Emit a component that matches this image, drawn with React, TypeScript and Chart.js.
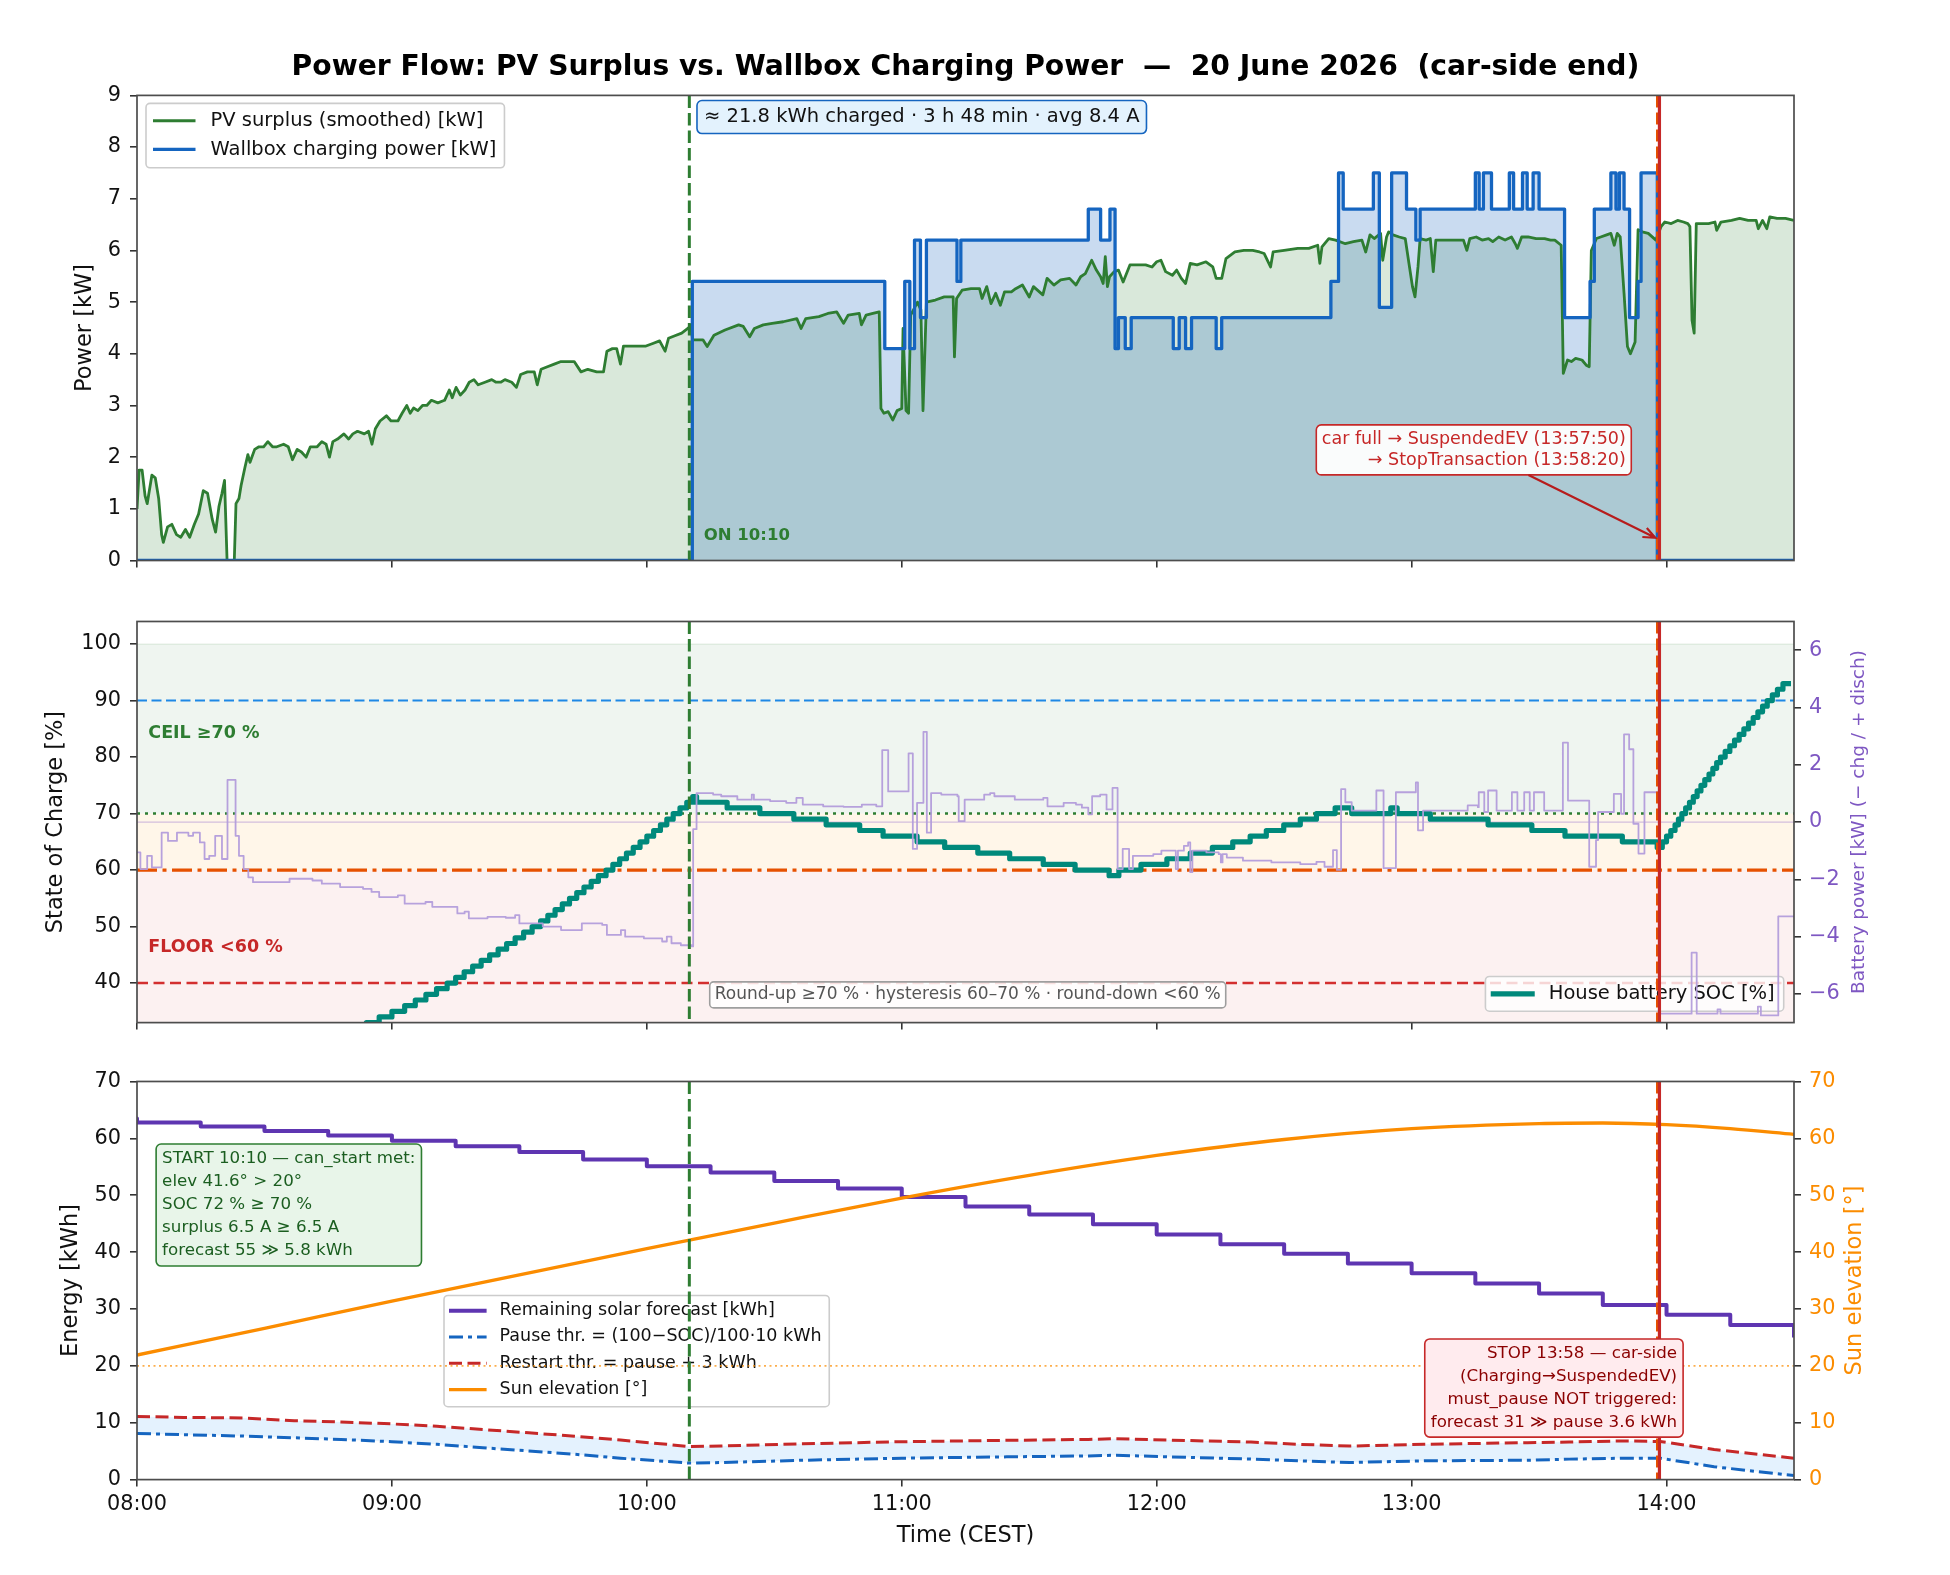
import React, { useEffect, useRef } from 'react';
import { Chart, registerables } from 'chart.js';

Chart.register(...registerables);

const FONT = '"DejaVu Sans", "Liberation Sans", sans-serif';
const TICK_PX = 20.8;
const LABEL_PX = 22.5;

// ---------------- axes / ticks ----------------
const timeTicks = [0, 60, 120, 180, 240, 300, 360];
const timeTickLabels = ['08:00', '09:00', '10:00', '11:00', '12:00', '13:00', '14:00'];
const powerTicks = [0, 1, 2, 3, 4, 5, 6, 7, 8, 9];
const socTicks = [40, 50, 60, 70, 80, 90, 100];
const batteryTicks = [-6, -4, -2, 0, 2, 4, 6];
const batteryTickLabels = ['−6', '−4', '−2', '0', '2', '4', '6'];
const energyTicks = [0, 10, 20, 30, 40, 50, 60, 70];
const sunTicks = [0, 10, 20, 30, 40, 50, 60, 70];

// event times (minutes after 08:00)
const chargeStartMin = 130;
const suspendedMin = 357.83;
const stopMin = 358.33;

// ---------------- series: [minute after 08:00, value] ----------------
const pvSurplusKw = [
  [0, 1.0], [0.5, 1.75], [1.2, 1.75], [1.9, 1.25], [2.4, 1.1], [3.5, 1.65], [4.3, 1.6], [5.1, 1.2], [5.8, 0.5], [6.2, 0.35],
  [7.2, 0.65], [8.2, 0.7], [9.3, 0.5], [10.3, 0.45], [11.4, 0.6], [12.4, 0.45], [13.5, 0.7], [14.5, 0.9], [15.6, 1.35], [16.6, 1.3],
  [17.7, 0.8], [18.5, 0.55], [19.3, 1.05], [20, 1.3], [20.6, 1.55], [21.2, 0], [22.9, 0], [23.3, 1.1], [24, 1.2], [24.5, 1.45],
  [25.4, 1.8], [26.1, 2.05], [26.6, 1.9], [27.7, 2.15], [28.7, 2.2], [29.8, 2.2], [30.8, 2.3], [31.9, 2.2], [32.9, 2.2], [34.5, 2.25],
  [35.6, 2.2], [36.6, 1.95], [37.7, 2.15], [38.7, 2.1], [39.8, 2.0], [40.8, 2.2], [42.4, 2.2], [43.5, 2.3], [44.5, 2.25], [45.3, 2.0],
  [46.1, 2.3], [47.2, 2.35], [48.7, 2.45], [49.8, 2.35], [50.8, 2.45], [51.9, 2.5], [53.5, 2.45], [54.5, 2.5], [55.3, 2.25], [56.1, 2.55],
  [57.2, 2.7], [58.7, 2.8], [59.8, 2.7], [61.4, 2.7], [62.4, 2.85], [63.5, 3.0], [64.3, 2.85], [65.1, 2.95], [66.1, 2.9], [67.2, 3.0],
  [68.2, 3.0], [69.3, 3.1], [70.8, 3.05], [72.4, 3.1], [73.5, 3.3], [74.2, 3.15], [75.1, 3.35], [76.1, 3.2], [77.2, 3.3], [78.2, 3.45],
  [79.3, 3.5], [80.3, 3.4], [81.9, 3.45], [83.5, 3.5], [84.5, 3.45], [85.6, 3.45], [86.6, 3.5], [88.2, 3.45], [89.3, 3.35], [90.3, 3.6],
  [91.9, 3.65], [93.5, 3.65], [94.2, 3.4], [95.1, 3.7], [96.6, 3.75], [98.2, 3.8], [99.8, 3.85], [101.4, 3.85], [102.9, 3.85], [104.5, 3.65],
  [106.1, 3.7], [108.2, 3.65], [109.8, 3.65], [110.6, 4.05], [111.9, 4.1], [112.9, 4.1], [113.8, 3.8], [114.5, 4.15], [116.1, 4.15], [118.2, 4.15],
  [119.8, 4.15], [121.4, 4.2], [123, 4.25], [124.3, 4.05], [125.1, 4.3], [126.6, 4.35], [128.2, 4.4], [129.8, 4.5], [130.3, 4.55],
  [130.8, 4.27], [133.2, 4.27], [134.2, 4.14], [135.8, 4.36], [138.4, 4.46], [141.6, 4.56], [142.7, 4.53], [144.2, 4.33], [145.3, 4.49], [147.4, 4.56],
  [149.5, 4.59], [152.1, 4.62], [155.3, 4.68], [156.3, 4.49], [157.4, 4.68], [160.5, 4.72], [162.6, 4.78], [164.7, 4.81], [166.3, 4.59], [167.4, 4.75],
  [170, 4.78], [170.5, 4.56], [171.6, 4.75], [173.2, 4.78], [174.7, 4.81], [175.1, 2.94], [175.8, 2.85], [176.8, 2.88], [177.9, 2.72], [178.9, 2.9],
  [180, 2.94], [180.3, 4.49], [181, 2.9], [181.6, 2.85], [182.1, 4.75], [183.7, 5.0], [184.5, 4.85], [185, 2.9], [185.8, 5.0], [187.9, 5.04],
  [190, 5.1], [192.1, 5.1], [192.4, 3.94], [192.9, 5.07], [194.2, 5.23], [196.3, 5.26], [198.3, 5.26], [198.9, 5.07], [200, 5.3], [201, 4.97],
  [202.1, 5.17], [203.2, 4.94], [204.2, 5.2], [205.8, 5.2], [206.8, 5.26], [208.4, 5.33], [210, 5.1], [211, 5.3], [213.2, 5.14], [214.2, 5.46],
  [215.8, 5.33], [217.4, 5.43], [219.5, 5.46], [221, 5.33], [222.1, 5.49], [223.2, 5.55], [224.7, 5.81], [225.8, 5.62], [226.8, 5.49], [227.4, 5.36],
  [227.9, 5.88], [228.4, 5.3], [228.9, 5.49], [230, 5.59], [231, 5.62], [232.1, 5.39], [233.7, 5.72], [235.3, 5.72], [237.4, 5.72], [238.9, 5.68],
  [240, 5.78], [241, 5.81], [242.1, 5.59], [243.7, 5.52], [244.7, 5.62], [245.8, 5.46], [246.8, 5.36], [247.9, 5.75], [249.5, 5.72], [251.6, 5.78],
  [253.2, 5.68], [254, 5.46], [255.3, 5.46], [256.3, 5.84], [258.4, 5.97], [260.5, 6.0], [262.6, 6.0], [264.2, 5.97], [265.3, 5.94], [266.8, 5.68],
  [267.4, 5.97], [270, 6.0], [273.2, 6.04], [275.8, 6.04], [277.9, 6.1], [278.4, 5.75], [278.9, 6.07], [280.5, 6.23], [282.1, 6.2], [284.4, 6.13],
  [286.3, 6.17], [288.3, 6.2], [289.2, 5.97], [290.2, 6.3], [291.2, 6.23], [292.7, 6.33], [293.2, 5.81], [294.1, 6.26], [294.6, 6.36], [295.6, 6.3],
  [297.1, 6.26], [298.5, 6.23], [299.5, 5.68], [300.2, 5.3], [300.8, 5.1], [301.5, 5.68], [302, 6.23], [303.4, 6.2], [304.4, 6.23], [305.1, 5.59],
  [305.7, 6.2], [307.8, 6.2], [310.8, 6.2], [312.2, 6.2], [313, 6.0], [313.7, 6.23], [315.2, 6.26], [316.6, 6.2], [318.1, 6.23], [319.1, 6.17],
  [320.5, 6.26], [322, 6.2], [323.5, 6.26], [324.4, 6.13], [324.9, 6.04], [325.9, 6.26], [327.4, 6.26], [329.3, 6.23], [331.3, 6.23], [332.7, 6.2],
  [333.7, 6.2], [335.2, 6.1], [335.7, 3.62], [336.7, 3.88], [337.6, 3.85], [338.6, 3.91], [340.1, 3.88], [341.1, 3.78], [341.8, 3.75], [342.3, 6.0],
  [343.5, 6.23], [344.5, 6.26], [345.9, 6.3], [346.9, 6.33], [347.7, 6.1], [348.4, 6.33], [349.1, 6.26], [350, 5.17], [350.8, 4.14], [351.5, 4.0],
  [352.6, 4.23], [353.3, 6.4], [354.3, 6.36], [355.7, 6.33], [357.5, 6.2], [358.7, 6.46], [359.6, 6.55], [361.1, 6.52], [362.6, 6.58], [364, 6.55],
  [365, 6.52], [365.5, 6.46], [366, 4.65], [366.5, 4.4], [367, 6.52], [368.4, 6.52], [369.9, 6.52], [371.4, 6.55], [371.8, 6.39], [372.8, 6.55],
  [375.3, 6.58], [377.2, 6.62], [379.2, 6.58], [381.1, 6.58], [381.6, 6.42], [382.6, 6.58], [383.6, 6.42], [384.3, 6.65], [386, 6.62], [388, 6.62],
  [390, 6.58],
];

const wallboxKw = [
  [0, 0], [130.7, 5.4], [176, 4.1], [180.7, 5.4], [181.9, 4.1], [183, 6.2], [184.4, 4.7], [185.8, 6.2], [193, 5.4], [193.9, 6.2],
  [223.9, 6.8], [226.8, 6.2], [229, 6.8], [230.2, 4.1], [231, 4.7], [232.6, 4.1], [234, 4.7], [243.9, 4.1], [245.3, 4.7], [246.8, 4.1],
  [248.2, 4.7], [254, 4.1], [255.3, 4.7], [281, 5.4], [282.8, 7.5], [283.9, 6.8], [291, 7.5], [292.4, 4.9], [295.3, 7.5], [298.8, 6.8],
  [301, 6.2], [302, 6.8], [315, 7.5], [315.9, 6.8], [316.9, 7.5], [318.8, 6.8], [323, 7.5], [324, 6.8], [326.1, 7.5], [327.2, 6.8],
  [328.6, 7.5], [330, 6.8], [336, 4.7], [342, 5.4], [343, 6.8], [346.9, 7.5], [348.1, 6.8], [348.9, 7.5], [350, 6.8], [351.3, 4.7],
  [353.3, 5.4], [354, 7.5], [357.83, 0], [390, 0],
];

const houseSocPct = [
  [48, 31], [51, 32], [54, 33], [57, 34], [60, 35], [63, 36], [65.5, 37], [68, 38], [70.5, 39], [73, 40],
  [75, 41], [77, 42], [79, 43], [81, 44], [83, 45], [85, 46], [87, 47], [89, 48], [91, 49], [93, 50],
  [95, 51], [96.7, 52], [98.4, 53], [100.1, 54], [101.8, 55], [103.5, 56], [105.2, 57], [106.9, 58], [108.6, 59], [110.4, 60],
  [112, 61], [113.6, 62], [115.2, 63], [116.8, 64], [118.4, 65], [120, 66], [121.6, 67], [123.2, 68], [124.7, 69], [126.2, 70],
  [127.8, 71], [129.4, 72], [130.8, 73], [131.7, 72], [138.9, 71], [146.6, 70], [154.6, 69], [162.2, 68], [170.1, 67], [175.6, 66],
  [183.6, 65], [190.1, 64], [197.9, 63], [205.4, 62], [213.3, 61], [220.8, 60], [228.8, 59], [231.1, 60], [236.3, 61], [242.4, 62],
  [247.9, 63], [253.1, 64], [257.9, 65], [262, 66], [265.8, 67], [269.9, 68], [273.8, 69], [277.6, 70], [282, 71], [285.9, 70],
  [295.1, 71], [296.6, 70], [304.4, 69], [318, 68], [328.3, 67], [336.1, 66], [349.6, 65], [357.8, 64], [359, 65], [360, 66],
  [361, 67], [362, 68], [362.8, 69], [363.6, 70], [364.5, 71], [365.4, 72], [366.3, 73], [367.2, 74], [368.1, 75], [369, 76],
  [370, 77], [370.9, 78], [371.8, 79], [372.7, 80], [373.8, 81], [374.9, 82], [376, 83], [377.1, 84], [378.2, 85], [379.3, 86],
  [380.4, 87], [381.5, 88], [382.6, 89], [383.7, 90], [384.9, 91], [386.1, 92], [387.4, 93], [389.3, 93],
];

const batteryKw = [
  [0, -1.06], [0.8, -1.64], [2.4, -1.18], [3.5, -1.58], [5.8, -0.37], [7.3, -0.66], [9.4, -0.37], [12.1, -0.48], [13.2, -0.37], [14.8, -0.71],
  [15.9, -1.29], [17, -1.18], [18.4, -0.48], [20, -1.29], [21.3, 1.47], [23.2, -0.48], [24, -1.18], [25.1, -1.64], [26.2, -1.93], [27.3, -2.1],
  [35.9, -1.98], [41.3, -2.04], [43.5, -2.15], [47.8, -2.27], [53.2, -2.33], [55.2, -2.44], [57, -2.62], [61.4, -2.56], [63, -2.85], [67.9, -2.79],
  [69.5, -2.96], [75.4, -3.19], [77.1, -3.13], [78.1, -3.36], [82.5, -3.31], [86.8, -3.34], [89, -3.25], [90, -3.54], [95.5, -3.65], [99.8, -3.77],
  [104.7, -3.54], [109.5, -3.59], [110.6, -3.94], [113.9, -3.77], [114.9, -4.0], [119.3, -4.06], [123.6, -4.17], [124.7, -4.0], [125.8, -4.23], [128, -4.3],
  [130.6, -4.34], [130.9, -0.25], [131.7, 1.01], [135.6, 0.96], [137.5, 0.9], [141.3, 0.78], [144.7, 0.96], [145.2, 0.78], [149, 0.73], [152.8, 0.67],
  [155.2, 0.84], [156.7, 0.61], [161.5, 0.55], [166.3, 0.53], [170.6, 0.61], [174, 0.55], [175.4, 2.51], [176.8, 1.07], [181.6, 2.4], [182.6, -0.94],
  [183.6, 0.67], [185.1, 3.15], [185.9, -0.37], [186.9, 1.01], [189.3, 0.96], [193.1, 0.9], [193.4, 0.03], [194.8, 0.78], [199.4, 0.96], [200.8, 1.01],
  [201.8, 0.9], [206.6, 0.78], [213.3, 0.84], [214.3, 0.55], [218.1, 0.67], [221, 0.61], [222.4, 0.5], [223.9, 0.27], [224.8, 0.9], [226.7, 0.96],
  [228.2, 0.44], [229.6, 1.19], [230.8, -1.64], [232, -0.94], [233.5, -1.64], [234.4, -1.18], [239.2, -1.12], [241.1, -1.0], [244.5, -1.64], [245, -1.0],
  [246.4, -0.83], [247.4, -0.71], [247.9, -1.75], [248.4, -1.0], [251.7, -1.06], [254.6, -1.12], [255.1, -1.41], [255.5, -1.12], [256.5, -1.24], [260.3, -1.35],
  [267, -1.41], [273.8, -1.47], [277.6, -1.39], [279.5, -1.56], [281.5, -0.98], [282.4, -1.67], [283.4, 1.15], [284.4, 0.69], [285.9, 0.4], [291.7, 1.1],
  [293.4, -1.61], [296.3, 1.04], [301, 1.38], [301.5, -0.29], [302.7, 0.4], [313.2, 0.58], [315.6, 0.52], [315.8, 1.04], [317.1, 0.35], [318, 1.1],
  [320, 0.4], [323.6, 1.04], [324.9, 0.4], [326.5, 1.04], [327.8, 0.4], [328.8, 1.04], [331.2, 0.4], [335.6, 2.77], [336.8, 0.75], [341.8, -1.56],
  [343.4, -0.63], [343.9, 0.35], [347.6, 0.98], [349.3, 0.29], [350, 3.06], [351.2, 2.54], [352.2, -0.06], [353.4, -1.1], [354.8, 1.04], [358.2, -6.69],
  [365.9, -4.56], [367.1, -6.69], [372, -6.54], [372.7, -6.69], [381.5, -6.44], [382.2, -6.75], [386.3, -3.29], [390, -3.29],
];

const forecastKwh = [
  [-15, 63.5], [0, 62.8], [15, 62.1], [30, 61.3], [45, 60.5], [60, 59.6], [75, 58.6], [90, 57.6], [105, 56.3], [120, 55.1],
  [135, 54.0], [150, 52.5], [165, 51.2], [180, 49.7], [195, 48.0], [210, 46.6], [225, 44.9], [240, 43.1], [255, 41.4], [270, 39.7],
  [285, 38.0], [300, 36.3], [315, 34.5], [330, 32.7], [345, 30.7], [360, 29.0], [375, 27.2], [390, 25.0],
];

const pauseThrKwh = [
  [0, 8.1], [11, 7.9], [25, 7.65], [37, 7.35], [48, 7.06], [60, 6.66], [70.6, 6.2], [81.4, 5.6], [92.2, 5.04], [103, 4.46],
  [113.8, 3.76], [124.7, 3.18], [130, 2.9], [137.5, 3.0], [156.7, 3.4], [180, 3.76], [204.7, 4.0], [223.9, 4.17], [230.1, 4.28], [243, 4.0],
  [262.2, 3.6], [273.7, 3.3], [285.4, 3.0], [302.9, 3.3], [327.3, 3.4], [337.1, 3.6], [349.8, 3.76], [358.5, 3.76], [371.2, 2.26], [390, 0.7],
];

const restartThrKwh = [
  [0, 11.1], [11, 10.94], [25, 10.83], [37, 10.36], [48, 10.13], [60, 9.79], [70.6, 9.38], [81.4, 8.8], [92.2, 8.22], [103, 7.64],
  [113.8, 6.95], [124.7, 6.2], [130, 5.8], [137.5, 5.9], [156.7, 6.3], [180, 6.66], [204.7, 6.9], [223.9, 7.06], [230.1, 7.18], [243, 6.95],
  [262.2, 6.6], [273.7, 6.2], [285.4, 5.9], [302.9, 6.2], [327.3, 6.5], [337.1, 6.6], [349.8, 6.8], [358.5, 6.7], [371.2, 5.3], [390, 3.76],
];

const sunElevationDeg = [
  [0, 21.9], [30, 26.6], [60, 31.4], [90, 36.0], [120, 40.6], [150, 45.1], [180, 49.5], [210, 53.5], [240, 57.0], [270, 59.8],
  [300, 61.7], [330, 62.6], [345, 62.7], [360, 62.4], [375, 61.7], [390, 60.7],
];

// ---------------- texts ----------------
const titleText = 'Power Flow: PV Surplus vs. Wallbox Charging Power  —  20 June 2026  (car-side end)';
const summaryText = '≈ 21.8 kWh charged · 3 h 48 min · avg 8.4 A';
const carFullLines = ['car full → SuspendedEV (13:57:50)', '→ StopTransaction (13:58:20)'];
const roundUpText = 'Round-up ≥70 % · hysteresis 60–70 % · round-down <60 %';
const startLines = ['START 10:10 — can_start met:', 'elev 41.6° > 20°', 'SOC 72 % ≥ 70 %', 'surplus 6.5 A ≥ 6.5 A', 'forecast 55 ≫ 5.8 kWh'];
const stopLines = ['STOP 13:58 — car-side', '(Charging→SuspendedEV)', 'must_pause NOT triggered:', 'forecast 31 ≫ pause 3.6 kWh'];

// ---------------- helpers ----------------
const pts = (a: number[][]) => a.map(([x, y]) => ({ x, y }));
// value holds from its time until the next point (matplotlib "steps-post")
const HOLD = 'before';

function roundRect(ctx: any, x: number, y: number, w: number, h: number, r: number) {
  ctx.beginPath();
  ctx.moveTo(x + r, y);
  ctx.arcTo(x + w, y, x + w, y + h, r);
  ctx.arcTo(x + w, y + h, x, y + h, r);
  ctx.arcTo(x, y + h, x, y, r);
  ctx.arcTo(x, y, x + w, y, r);
  ctx.closePath();
}

function clipArea(chart: any) {
  const { ctx, chartArea: a } = chart;
  ctx.beginPath();
  ctx.rect(a.left, a.top, a.right - a.left, a.bottom - a.top);
  ctx.clip();
}

function vLine(chart: any, minute: number, color: string, width: number, dash: number[]) {
  const { ctx, chartArea: a, scales } = chart;
  const x = scales.x.getPixelForValue(minute);
  ctx.save();
  clipArea(chart);
  ctx.strokeStyle = color;
  ctx.lineWidth = width;
  ctx.setLineDash(dash);
  ctx.beginPath();
  ctx.moveTo(x, a.top);
  ctx.lineTo(x, a.bottom);
  ctx.stroke();
  ctx.restore();
}

function hLine(chart: any, axis: string, value: number, color: string, width: number, dash: number[]) {
  const { ctx, chartArea: a, scales } = chart;
  const y = scales[axis].getPixelForValue(value);
  ctx.save();
  clipArea(chart);
  ctx.strokeStyle = color;
  ctx.lineWidth = width;
  ctx.setLineDash(dash);
  ctx.beginPath();
  ctx.moveTo(a.left, y);
  ctx.lineTo(a.right, y);
  ctx.stroke();
  ctx.restore();
}

function band(chart: any, from: number, to: number, color: string) {
  const { ctx, chartArea: a, scales } = chart;
  const y1 = scales.y.getPixelForValue(to);
  const y2 = scales.y.getPixelForValue(from);
  ctx.save();
  clipArea(chart);
  ctx.fillStyle = color;
  ctx.fillRect(a.left, y1, a.right - a.left, y2 - y1);
  ctx.restore();
}

function frame(chart: any) {
  const { ctx, chartArea: a } = chart;
  ctx.save();
  ctx.strokeStyle = '#4d4d4d';
  ctx.lineWidth = 1.7;
  ctx.strokeRect(a.left, a.top, a.right - a.left, a.bottom - a.top);
  ctx.restore();
}

function eventLines(chart: any) {
  vLine(chart, chargeStartMin, '#2e7d32', 3, [12.5, 5]);
  vLine(chart, suspendedMin, '#e65100', 2.6, [12, 5]);
  vLine(chart, stopMin, '#c62828', 3.2, []);
}

function rotatedText(ctx: any, text: string, x: number, y: number, size: number, color: string) {
  ctx.save();
  ctx.translate(x, y);
  ctx.rotate(-Math.PI / 2);
  ctx.font = `${size}px ${FONT}`;
  ctx.fillStyle = color;
  ctx.textAlign = 'center';
  ctx.textBaseline = 'middle';
  ctx.fillText(text, 0, 0);
  ctx.restore();
}

function textBox(ctx: any, o: any) {
  ctx.save();
  ctx.font = `${o.bold ? 'bold ' : ''}${o.size}px ${FONT}`;
  const tw = Math.max(...o.lines.map((l: string) => ctx.measureText(l).width));
  const w = tw + 2 * o.padX;
  const h = o.lines.length * o.lineH + 2 * o.padY;
  const left = o.hAlign === 'left' ? o.x : o.x - w;
  const top = o.vAlign === 'top' ? o.y : o.vAlign === 'middle' ? o.y - h / 2 : o.y - h;
  roundRect(ctx, left, top, w, h, o.radius ?? 5);
  ctx.fillStyle = o.bg;
  ctx.fill();
  ctx.lineWidth = o.borderW ?? 1.6;
  ctx.strokeStyle = o.border;
  ctx.stroke();
  ctx.fillStyle = o.color;
  ctx.textBaseline = 'middle';
  const ta = o.textAlign ?? 'left';
  ctx.textAlign = ta;
  const tx = ta === 'left' ? left + o.padX : left + w - o.padX;
  o.lines.forEach((l: string, i: number) => ctx.fillText(l, tx, top + o.padY + o.lineH * (i + 0.5)));
  ctx.restore();
  return { left, top, w, h };
}

function legendBox(ctx: any, o: any) {
  ctx.save();
  ctx.font = `${o.size}px ${FONT}`;
  const tw = Math.max(...o.items.map((it: any) => ctx.measureText(it.label).width));
  const w = o.padL + o.handle + o.gap + tw + o.padR;
  const h = o.padT + o.items.length * o.rowH + o.padB;
  const left = o.anchor === 'br' ? o.x - w : o.x;
  const top = o.anchor === 'br' ? o.y - h : o.y;
  roundRect(ctx, left, top, w, h, 4);
  ctx.fillStyle = 'rgba(255,255,255,0.8)';
  ctx.fill();
  ctx.lineWidth = 1.6;
  ctx.strokeStyle = '#cccccc';
  ctx.stroke();
  o.items.forEach((it: any, i: number) => {
    const cy = top + o.padT + o.rowH * (i + 0.5);
    ctx.save();
    ctx.strokeStyle = it.color;
    ctx.lineWidth = it.width;
    ctx.setLineDash(it.dash || []);
    ctx.beginPath();
    ctx.moveTo(left + o.padL, cy);
    ctx.lineTo(left + o.padL + o.handle, cy);
    ctx.stroke();
    ctx.restore();
    ctx.fillStyle = '#111';
    ctx.textAlign = 'left';
    ctx.textBaseline = 'middle';
    ctx.fillText(it.label, left + o.padL + o.handle + o.gap, cy);
  });
  ctx.restore();
}

function arrow(ctx: any, x0: number, y0: number, x1: number, y1: number, color: string, width: number) {
  const ang = Math.atan2(y1 - y0, x1 - x0);
  const hl = 13;
  ctx.save();
  ctx.strokeStyle = color;
  ctx.lineWidth = width;
  ctx.beginPath();
  ctx.moveTo(x0, y0);
  ctx.lineTo(x1, y1);
  ctx.moveTo(x1 - hl * Math.cos(ang - 0.4), y1 - hl * Math.sin(ang - 0.4));
  ctx.lineTo(x1, y1);
  ctx.lineTo(x1 - hl * Math.cos(ang + 0.4), y1 - hl * Math.sin(ang + 0.4));
  ctx.stroke();
  ctx.restore();
}

function xScaleCfg(showLabels: boolean, height: number) {
  return {
    type: 'linear',
    min: 0,
    max: 390,
    afterBuildTicks: (s: any) => { s.ticks = timeTicks.map((v) => ({ value: v })); },
    afterFit: (s: any) => { s.height = height; },
    ticks: {
      display: showLabels,
      autoSkip: false,
      maxRotation: 0,
      padding: 6,
      color: '#111',
      font: { family: FONT, size: TICK_PX },
      callback: (_v: any, i: number) => timeTickLabels[i],
    },
    grid: { display: true, drawOnChartArea: false, drawTicks: true, tickLength: 7, color: '#333', lineWidth: 1.6 },
    border: { display: false },
  };
}

function yScaleCfg(position: string, min: number, max: number, ticks: number[], labels: string[] | null, width: number, color: string) {
  return {
    type: 'linear',
    position,
    min,
    max,
    afterBuildTicks: (s: any) => { s.ticks = ticks.map((v) => ({ value: v })); },
    afterFit: (s: any) => { s.width = width; },
    ticks: {
      autoSkip: false,
      padding: position === 'left' ? 9 : 8,
      color,
      font: { family: FONT, size: TICK_PX },
      callback: (v: any, i: number) => (labels ? labels[i] : String(v)),
    },
    grid: { display: true, drawOnChartArea: false, drawTicks: true, tickLength: 7, color: '#333', lineWidth: 1.6 },
    border: { display: false },
  };
}

const baseOptions = (padTop: number, padRight: number) => ({
  animation: false,
  responsive: false,
  events: [],
  layout: { padding: { top: padTop, right: padRight, bottom: 0, left: 0 } },
  plugins: { legend: { display: false }, tooltip: { enabled: false } },
});

const lineDs = (extra: any) => ({ pointRadius: 0, borderJoinStyle: 'round', fill: false, ...extra });

// ---------------- chart configs ----------------
function topConfig(): any {
  const overlay = {
    id: 'overlayTop',
    afterDatasetsDraw(chart: any) {
      const { ctx, chartArea: a, scales } = chart;
      const x = scales.x;
      const y = scales.y;
      eventLines(chart);
      frame(chart);
      legendBox(ctx, {
        x: a.left + 9, y: a.top + 8, anchor: 'tl', size: 19.5, rowH: 28.7, padL: 7, handle: 42.5, gap: 15, padR: 8, padT: 3, padB: 4,
        items: [
          { label: 'PV surplus (smoothed) [kW]', color: '#2e7d32', width: 2.8 },
          { label: 'Wallbox charging power [kW]', color: '#1565c0', width: 3.3 },
        ],
      });
      textBox(ctx, {
        lines: [summaryText], x: x.getPixelForValue(131.8), y: y.getPixelForValue(8.9), hAlign: 'left', vAlign: 'top',
        size: 19.5, lineH: 23, padX: 7, padY: 5, color: '#111', bg: '#e3f2fd', border: '#1565c0',
      });
      ctx.save();
      ctx.font = `bold 16.5px ${FONT}`;
      ctx.fillStyle = '#2e7d32';
      ctx.textAlign = 'left';
      ctx.textBaseline = 'middle';
      ctx.fillText('ON 10:10', x.getPixelForValue(133.4), y.getPixelForValue(0.47));
      ctx.restore();
      const box = textBox(ctx, {
        lines: carFullLines, x: x.getPixelForValue(351.7), y: y.getPixelForValue(2.14), hAlign: 'right', vAlign: 'middle', textAlign: 'right',
        size: 17.5, lineH: 21, padX: 5.5, padY: 4, color: '#c62828', bg: 'rgba(255,255,255,0.95)', border: '#c62828',
      });
      arrow(ctx, x.getPixelForValue(327.5), box.top + box.h, x.getPixelForValue(suspendedMin) - 2, y.getPixelForValue(0.44), '#b71c1c', 2.2);
    },
    afterDraw(chart: any) {
      const { ctx, chartArea: a } = chart;
      ctx.save();
      ctx.font = `bold 28.2px ${FONT}`;
      ctx.fillStyle = '#000';
      ctx.textAlign = 'center';
      ctx.textBaseline = 'alphabetic';
      ctx.fillText(titleText, (a.left + a.right) / 2, 74.6);
      ctx.restore();
      rotatedText(ctx, 'Power [kW]', 85, (a.top + a.bottom) / 2, LABEL_PX, '#111');
    },
  };
  return {
    type: 'line',
    data: {
      datasets: [
        lineDs({ data: pts(pvSurplusKw), borderWidth: 0, borderColor: 'rgba(0,0,0,0)', backgroundColor: 'rgba(46,125,50,0.18)', fill: 'origin', order: 3 }),
        lineDs({ data: pts(wallboxKw), stepped: HOLD, borderWidth: 0, borderColor: 'rgba(0,0,0,0)', backgroundColor: 'rgba(21,101,192,0.23)', fill: 'origin', order: 2 }),
        lineDs({ data: pts(pvSurplusKw), borderColor: '#2e7d32', borderWidth: 2.8, order: 1 }),
        lineDs({ data: pts(wallboxKw), stepped: HOLD, borderColor: '#1565c0', borderWidth: 3.3, order: 0 }),
      ],
    },
    options: {
      ...baseOptions(95.4, 156),
      scales: {
        x: xScaleCfg(false, 39.5),
        y: yScaleCfg('left', 0, 9, powerTicks, null, 137, '#111'),
      },
    },
    plugins: [overlay],
  };
}

function midConfig(): any {
  const overlay = {
    id: 'overlayMid',
    beforeDatasetsDraw(chart: any) {
      band(chart, 70, 100, 'rgba(46,125,50,0.075)');
      band(chart, 60, 70, 'rgba(255,152,0,0.085)');
      band(chart, 20, 60, 'rgba(211,47,47,0.065)');
      hLine(chart, 'y', 100, 'rgba(46,125,50,0.12)', 1.2, []);
      hLine(chart, 'y2', 0, 'rgba(126,87,194,0.35)', 1.3, []);
      hLine(chart, 'y', 90, '#1e88e5', 2, [10, 4.5]);
      hLine(chart, 'y', 70, '#2e7d32', 2.6, [3, 5]);
      hLine(chart, 'y', 60, '#e65100', 3.3, [20, 5.5, 4, 5.5]);
      hLine(chart, 'y', 40, '#d32f2f', 2.4, [11, 5.5]);
    },
    afterDatasetDraw(chart: any, args: any) {
      if (args.index !== 0) return;
      const { ctx, chartArea: a, scales } = chart;
      const x = scales.x;
      const y = scales.y;
      ctx.save();
      ctx.font = `bold 17.5px ${FONT}`;
      ctx.textAlign = 'left';
      ctx.textBaseline = 'middle';
      ctx.fillStyle = '#2e7d32';
      ctx.fillText('CEIL ≥70 %', x.getPixelForValue(2.66), y.getPixelForValue(84.2));
      ctx.fillStyle = '#c62828';
      ctx.fillText('FLOOR <60 %', x.getPixelForValue(2.66), y.getPixelForValue(46.3));
      ctx.restore();
      textBox(ctx, {
        lines: [roundUpText], x: x.getPixelForValue(134.8), y: y.getPixelForValue(37.9), hAlign: 'left', vAlign: 'middle',
        size: 17, lineH: 20, padX: 5, padY: 3, color: '#555', bg: 'rgba(255,255,255,0.85)', border: '#9e9e9e', radius: 4,
      });
      legendBox(ctx, {
        x: a.right - 10.3, y: a.bottom - 11.4, anchor: 'br', size: 19.5, rowH: 28.7, padL: 5.3, handle: 44, gap: 14, padR: 9, padT: 3, padB: 3,
        items: [{ label: 'House battery SOC [%]', color: '#00897b', width: 5.2 }],
      });
    },
    afterDatasetsDraw(chart: any) {
      eventLines(chart);
      frame(chart);
    },
    afterDraw(chart: any) {
      const { ctx, chartArea: a } = chart;
      const mid = (a.top + a.bottom) / 2;
      rotatedText(ctx, 'State of Charge [%]', 56.2, mid, LABEL_PX, '#111');
      rotatedText(ctx, 'Battery power [kW] (− chg / + disch)', 1859.6, mid, 18.5, '#7e57c2');
    },
  };
  return {
    type: 'line',
    data: {
      datasets: [
        lineDs({ data: pts(houseSocPct), stepped: HOLD, borderColor: '#00897b', borderWidth: 5.2, yAxisID: 'y', order: 1 }),
        lineDs({ data: pts(batteryKw), stepped: HOLD, borderColor: 'rgba(179,157,219,0.95)', borderWidth: 1.8, yAxisID: 'y2', order: 0 }),
      ],
    },
    options: {
      ...baseOptions(15.8, 0),
      scales: {
        x: xScaleCfg(false, 37.4),
        y: yScaleCfg('left', 33, 104, socTicks, null, 137, '#111'),
        y2: yScaleCfg('right', -7, 7, batteryTicks, batteryTickLabels, 156, '#7e57c2'),
      },
    },
    plugins: [overlay],
  };
}

function bottomConfig(): any {
  const overlay = {
    id: 'overlayBottom',
    afterDatasetDraw(chart: any, args: any) {
      if (args.index !== 0) return;
      const { ctx, chartArea: a } = chart;
      legendBox(ctx, {
        x: a.left + 307, y: a.top + 214, anchor: 'tl', size: 17.5, rowH: 26.3, padL: 5, handle: 37.6, gap: 13, padR: 7.7, padT: 2, padB: 4,
        items: [
          { label: 'Remaining solar forecast [kWh]', color: '#5e35b1', width: 4 },
          { label: 'Pause thr. = (100−SOC)/100·10 kWh', color: '#1565c0', width: 3, dash: [14, 5, 4, 5] },
          { label: 'Restart thr. = pause + 3 kWh', color: '#c62828', width: 3, dash: [13, 5.5] },
          { label: 'Sun elevation [°]', color: '#fb8c00', width: 3.3 },
        ],
      });
      hLine(chart, 'y2', 20, 'rgba(251,140,0,0.7)', 1.6, [2, 3.5]);
    },
    afterDatasetsDraw(chart: any) {
      const { ctx, scales } = chart;
      const x = scales.x;
      const y = scales.y;
      eventLines(chart);
      frame(chart);
      textBox(ctx, {
        lines: startLines, x: x.getPixelForValue(4.5), y: y.getPixelForValue(59.0), hAlign: 'left', vAlign: 'top',
        size: 16.7, lineH: 23, padX: 6, padY: 3.5, color: '#1b5e20', bg: '#e8f5e9', border: '#2e7d32',
      });
      textBox(ctx, {
        lines: stopLines, x: x.getPixelForValue(363.9), y: y.getPixelForValue(16.1), hAlign: 'right', vAlign: 'middle', textAlign: 'right',
        size: 16.7, lineH: 22.8, padX: 6, padY: 3.5, color: '#8b0000', bg: '#ffebee', border: '#c62828',
      });
    },
    afterDraw(chart: any) {
      const { ctx, chartArea: a } = chart;
      const mid = (a.top + a.bottom) / 2;
      rotatedText(ctx, 'Energy [kWh]', 71.2, mid, LABEL_PX, '#111');
      rotatedText(ctx, 'Sun elevation [°]', 1855, mid, LABEL_PX, '#fb8c00');
      ctx.save();
      ctx.font = `${LABEL_PX}px ${FONT}`;
      ctx.fillStyle = '#111';
      ctx.textAlign = 'center';
      ctx.textBaseline = 'middle';
      ctx.fillText('Time (CEST)', (a.left + a.right) / 2, 475.7);
      ctx.restore();
    },
  };
  return {
    type: 'line',
    data: {
      datasets: [
        lineDs({ data: pts(forecastKwh), stepped: HOLD, borderColor: '#5e35b1', borderWidth: 4, yAxisID: 'y', order: 1 }),
        lineDs({ data: pts(pauseThrKwh), borderColor: '#1565c0', borderWidth: 3, borderDash: [14, 5, 4, 5], yAxisID: 'y', order: 2 }),
        lineDs({ data: pts(restartThrKwh), borderColor: '#c62828', borderWidth: 3, borderDash: [13, 5.5], yAxisID: 'y', order: 3, fill: 1, backgroundColor: 'rgba(33,150,243,0.12)' }),
        lineDs({ data: pts(sunElevationDeg), borderColor: '#fb8c00', borderWidth: 3.3, yAxisID: 'y2', order: 0, cubicInterpolationMode: 'monotone' }),
      ],
    },
    options: {
      ...baseOptions(15.8, 0),
      scales: {
        x: xScaleCfg(true, 95.4),
        y: yScaleCfg('left', 0, 70, energyTicks, null, 137, '#111'),
        y2: yScaleCfg('right', 0, 70, sunTicks, null, 156, '#fb8c00'),
      },
    },
    plugins: [overlay],
  };
}

export default function App() {
  const r1 = useRef<HTMLCanvasElement>(null);
  const r2 = useRef<HTMLCanvasElement>(null);
  const r3 = useRef<HTMLCanvasElement>(null);

  useEffect(() => {
    Chart.defaults.font.family = FONT;
    const charts = [
      new Chart(r1.current as HTMLCanvasElement, topConfig()),
      new Chart(r2.current as HTMLCanvasElement, midConfig()),
      new Chart(r3.current as HTMLCanvasElement, bottomConfig()),
    ];
    return () => charts.forEach((c) => c.destroy());
  }, []);

  const cs = (top: number, h: number): React.CSSProperties => ({ position: 'absolute', left: 0, top, width: 1950, height: h, display: 'block' });

  return (
    <div style={{ position: 'absolute', left: 0, top: 0, width: 1950, height: 1575, background: '#ffffff', overflow: 'hidden' }}>
      <canvas ref={r1} width={1950} height={600} style={cs(0, 600)} />
      <canvas ref={r2} width={1950} height={460} style={cs(600, 460)} />
      <canvas ref={r3} width={1950} height={515} style={cs(1060, 515)} />
    </div>
  );
}
